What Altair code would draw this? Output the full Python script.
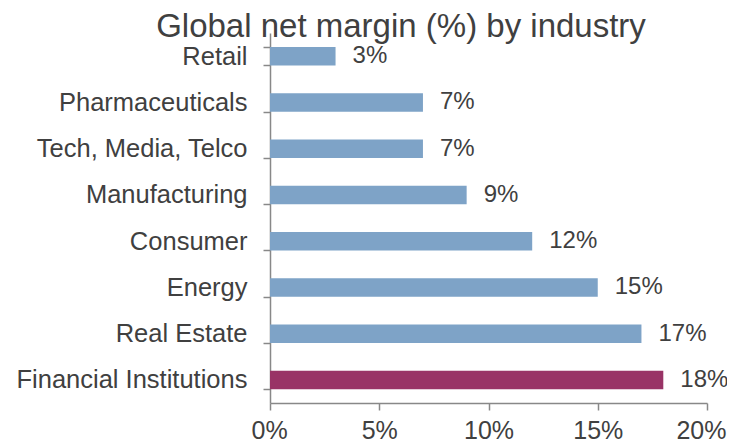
import altair as alt
import pandas as pd

industries = ["Retail", "Pharmaceuticals", "Tech, Media, Telco", "Manufacturing",
              "Consumer", "Energy", "Real Estate", "Financial Institutions"]
margins = [3, 7, 7, 9, 12, 15, 17, 18]
highlighted = "Financial Institutions"
x_ticks = [0, 5, 10, 15, 20]
title_text = "Global net margin (%) by industry"

df = pd.DataFrame({"industry": industries, "margin": margins})
df["label"] = df["margin"].astype(str) + "%"

FONT = "Liberation Sans"
TXT = "#404040"
GRID = "#888888"

y_enc = alt.Y("industry:N", sort=industries, title=None,
              scale=alt.Scale(paddingInner=0.6, paddingOuter=0.3),
              axis=alt.Axis(labelFont=FONT, labelFontSize=25.5, labelColor=TXT,
                            labelPadding=16, labelLimit=400, tickSize=7,
                            tickColor=GRID, tickWidth=1.5, domainColor=GRID,
                            domainWidth=1.5, tickBand="extent", grid=False))
x_enc = alt.X("margin:Q", title=None,
              scale=alt.Scale(domain=[0, 20], nice=False),
              axis=alt.Axis(values=x_ticks, labelExpr="datum.value + '%'",
                            labelFont=FONT, labelFontSize=25, labelColor=TXT,
                            labelPadding=8, labelFlush=True,
                            labelFlushOffset=19, tickSize=7,
                            tickColor=GRID, tickWidth=1.5, domainColor=GRID,
                            domainWidth=1.5, grid=False))

bars = alt.Chart(df).mark_bar().encode(
    x=x_enc, y=y_enc,
    color=alt.condition(alt.datum.industry == highlighted,
                        alt.value("#993366"), alt.value("#7ea3c7")),
)
texts = alt.Chart(df).mark_text(align="left", baseline="middle", dx=17,
                                font=FONT, fontSize=24, color=TXT).encode(
    x="margin:Q", y=alt.Y("industry:N", sort=industries), text="label:N")

title = alt.Chart(pd.DataFrame({"t": [title_text]})).mark_text(
    align="center", baseline="alphabetic", font=FONT, fontSize=33, color=TXT
).encode(x=alt.value(131), y=alt.value(4), text="t:N")

chart = (bars + texts + title).properties(
    width=437, height=370, background="white",
    autosize=alt.AutoSizeParams(type="none"),
    padding={"left": 262, "top": 25, "right": 20, "bottom": 40},
).configure_view(strokeWidth=0, stroke=None)

chart.save("out.html", embed_options={"renderer": "svg", "actions": False})
